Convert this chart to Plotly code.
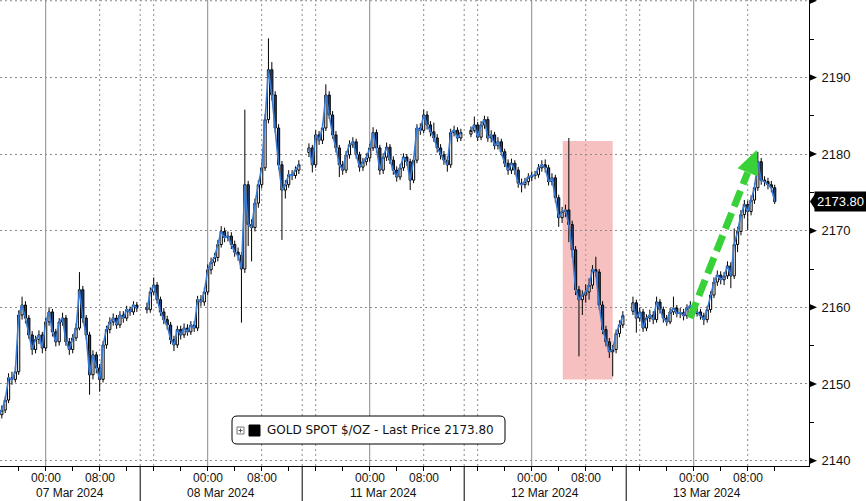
import plotly.graph_objects as go

# ---------------- data: GOLD SPOT $/OZ, 30-minute bars ----------------
# first bar of each trading session, in hours from 07 Mar 2024 00:00 (chart time)
session_start = [-7.0, 15.0, 39.0, 63.0, 87.0]

open_07 = [2145.2, 2146.0, 2146.6, 2147.9, 2150.8, 2150.6, 2151.6, 2159.0, 2160.3, 2158.6, 2156.4, 2154.5, 2155.8, 2156.4, 2154.7, 2158.1, 2159.4, 2156.8, 2155.5, 2158.1, 2158.6, 2155.5, 2154.5, 2156.0, 2157.3, 2162.3, 2158.6, 2156.4, 2151.2, 2153.8, 2152.1, 2150.6, 2155.1, 2157.1, 2158.1, 2158.6, 2157.7, 2159.0, 2158.6, 2159.7, 2159.4, 2160.3]
high_07 = [2146.5, 2147.2, 2148.4, 2151.4, 2151.6, 2152.2, 2159.6, 2161.4, 2160.8, 2159.0, 2156.9, 2156.3, 2157.0, 2156.8, 2158.6, 2160.0, 2159.8, 2157.2, 2158.6, 2159.3, 2159.0, 2156.0, 2156.5, 2157.9, 2164.6, 2162.8, 2159.0, 2156.8, 2154.4, 2154.2, 2152.6, 2155.6, 2157.6, 2158.7, 2159.2, 2159.0, 2159.5, 2159.5, 2160.2, 2160.1, 2160.8, 2160.7]
low_07 = [2144.6, 2145.5, 2146.2, 2147.5, 2149.9, 2150.2, 2151.2, 2158.4, 2157.9, 2155.9, 2153.8, 2154.0, 2155.2, 2154.0, 2154.3, 2157.6, 2156.2, 2154.9, 2155.0, 2157.6, 2155.0, 2153.8, 2154.0, 2155.6, 2157.0, 2158.0, 2155.8, 2148.6, 2150.6, 2151.4, 2149.0, 2150.2, 2154.6, 2156.6, 2157.6, 2157.2, 2157.3, 2158.0, 2158.2, 2158.9, 2159.0, 2159.4]
close_07 = [2146.0, 2146.6, 2147.9, 2150.8, 2150.6, 2151.6, 2159.0, 2160.3, 2158.6, 2156.4, 2154.5, 2155.8, 2156.4, 2154.7, 2158.1, 2159.4, 2156.8, 2155.5, 2158.1, 2158.6, 2155.5, 2154.5, 2156.0, 2157.3, 2162.3, 2158.6, 2156.4, 2151.2, 2153.8, 2152.1, 2150.6, 2155.1, 2157.1, 2158.1, 2158.6, 2157.7, 2159.0, 2158.6, 2159.7, 2159.4, 2160.3, 2159.9]

open_08 = [2160.0, 2159.7, 2162.0, 2162.9, 2161.0, 2159.4, 2158.4, 2157.7, 2155.8, 2155.1, 2157.1, 2156.4, 2157.3, 2156.8, 2157.7, 2157.3, 2161.0, 2160.7, 2162.0, 2164.9, 2165.9, 2166.5, 2168.2, 2169.9, 2169.1, 2169.3, 2168.2, 2167.2, 2166.8, 2165.0, 2176.0, 2170.8, 2170.4, 2173.6, 2176.0, 2178.2, 2184.5, 2191.0, 2187.7, 2183.4, 2178.6, 2175.3, 2176.0, 2177.3, 2177.2, 2177.9]
high_08 = [2160.6, 2162.6, 2163.9, 2163.3, 2161.4, 2159.9, 2158.9, 2158.1, 2156.3, 2157.6, 2157.6, 2157.9, 2157.8, 2158.2, 2158.2, 2161.5, 2161.6, 2162.6, 2165.6, 2166.5, 2167.1, 2168.8, 2170.6, 2170.4, 2169.9, 2169.8, 2168.7, 2167.8, 2167.2, 2185.8, 2176.5, 2171.5, 2174.2, 2176.6, 2178.9, 2185.2, 2195.1, 2192.0, 2188.2, 2183.9, 2179.1, 2176.6, 2177.9, 2177.9, 2178.4, 2179.2]
low_08 = [2159.2, 2159.3, 2161.6, 2160.5, 2158.9, 2157.8, 2157.1, 2155.2, 2154.3, 2154.7, 2155.8, 2156.0, 2156.3, 2156.4, 2156.8, 2156.9, 2160.1, 2160.2, 2161.6, 2164.3, 2165.4, 2166.0, 2167.8, 2168.5, 2168.6, 2167.6, 2166.6, 2166.1, 2158.0, 2164.5, 2168.0, 2166.0, 2169.9, 2173.0, 2175.5, 2177.8, 2184.0, 2187.0, 2182.8, 2178.0, 2168.8, 2174.2, 2175.6, 2176.6, 2176.8, 2177.4]
close_08 = [2159.7, 2162.0, 2162.9, 2161.0, 2159.4, 2158.4, 2157.7, 2155.8, 2155.1, 2157.1, 2156.4, 2157.3, 2156.8, 2157.7, 2157.3, 2161.0, 2160.7, 2162.0, 2164.9, 2165.9, 2166.5, 2168.2, 2169.9, 2169.1, 2169.3, 2168.2, 2167.2, 2166.8, 2165.0, 2176.0, 2170.8, 2170.4, 2173.6, 2176.0, 2178.2, 2184.5, 2191.0, 2187.7, 2183.4, 2178.6, 2175.3, 2176.0, 2177.3, 2177.2, 2177.9, 2178.6]

open_11 = [2180.2, 2180.8, 2178.6, 2182.5, 2181.8, 2183.4, 2187.7, 2185.1, 2182.5, 2180.8, 2178.6, 2177.9, 2179.9, 2181.2, 2181.6, 2179.9, 2178.3, 2179.0, 2179.5, 2180.8, 2182.8, 2180.8, 2177.9, 2179.6, 2180.9, 2179.2, 2177.9, 2177.0, 2178.2, 2179.6, 2179.0, 2176.6, 2179.2, 2183.4, 2183.1, 2185.1, 2183.8, 2182.9, 2182.1, 2180.8, 2179.9, 2179.2, 2178.6, 2182.8, 2183.1, 2182.1]
high_11 = [2181.4, 2181.2, 2183.1, 2183.0, 2184.0, 2189.1, 2188.2, 2185.6, 2183.0, 2181.2, 2179.1, 2180.4, 2181.8, 2182.2, 2182.0, 2180.3, 2179.5, 2180.1, 2181.3, 2183.5, 2183.2, 2181.2, 2180.1, 2181.5, 2181.3, 2179.7, 2178.4, 2178.7, 2180.1, 2180.0, 2179.4, 2179.7, 2183.9, 2184.0, 2185.8, 2185.6, 2184.3, 2184.1, 2182.6, 2181.3, 2180.4, 2179.7, 2183.3, 2183.7, 2183.5, 2183.3]
low_11 = [2179.6, 2177.6, 2178.2, 2181.2, 2181.3, 2183.0, 2184.6, 2182.0, 2180.2, 2177.0, 2177.3, 2177.5, 2179.4, 2180.8, 2179.4, 2177.7, 2177.8, 2178.5, 2179.0, 2180.4, 2180.2, 2177.3, 2177.4, 2179.1, 2178.7, 2177.3, 2176.4, 2176.6, 2177.8, 2178.5, 2175.3, 2176.2, 2178.8, 2182.5, 2182.7, 2183.2, 2182.3, 2181.6, 2180.2, 2179.3, 2178.6, 2177.7, 2178.2, 2182.3, 2181.6, 2181.7]
close_11 = [2180.8, 2178.6, 2182.5, 2181.8, 2183.4, 2187.7, 2185.1, 2182.5, 2180.8, 2178.6, 2177.9, 2179.9, 2181.2, 2181.6, 2179.9, 2178.3, 2179.0, 2179.5, 2180.8, 2182.8, 2180.8, 2177.9, 2179.6, 2180.9, 2179.2, 2177.9, 2177.0, 2178.2, 2179.6, 2179.0, 2176.6, 2179.2, 2183.4, 2183.1, 2185.1, 2183.8, 2182.9, 2182.1, 2180.8, 2179.9, 2179.2, 2178.6, 2182.8, 2183.1, 2182.1, 2182.8]

open_12 = [2182.6, 2183.1, 2183.8, 2182.2, 2183.8, 2184.5, 2182.1, 2182.5, 2181.1, 2181.6, 2180.3, 2178.8, 2177.9, 2178.8, 2177.9, 2176.2, 2176.0, 2176.4, 2177.0, 2177.2, 2177.3, 2178.2, 2178.6, 2178.2, 2176.4, 2176.9, 2174.3, 2171.7, 2172.5, 2172.7, 2170.8, 2167.5, 2162.3, 2161.0, 2161.6, 2162.0, 2162.9, 2164.9, 2164.6, 2160.3, 2157.1, 2155.5, 2154.2, 2154.5, 2156.6, 2157.7]
high_12 = [2183.6, 2184.9, 2184.2, 2184.3, 2185.0, 2184.9, 2183.1, 2182.9, 2182.2, 2182.0, 2180.7, 2179.3, 2179.4, 2179.2, 2178.3, 2176.8, 2176.9, 2177.5, 2177.7, 2177.8, 2178.7, 2179.2, 2179.3, 2178.6, 2177.5, 2177.3, 2174.7, 2173.1, 2173.4, 2182.1, 2171.3, 2168.0, 2162.8, 2162.2, 2163.0, 2163.8, 2165.5, 2166.6, 2165.0, 2160.8, 2157.6, 2156.0, 2155.1, 2157.1, 2158.3, 2159.5]
low_12 = [2182.2, 2182.8, 2181.7, 2181.8, 2183.3, 2181.6, 2181.5, 2180.6, 2180.6, 2179.8, 2178.3, 2177.3, 2177.4, 2177.3, 2175.6, 2175.0, 2175.5, 2175.9, 2176.5, 2176.7, 2176.9, 2177.7, 2177.6, 2175.9, 2175.9, 2173.7, 2170.5, 2171.0, 2171.8, 2168.5, 2166.5, 2161.6, 2153.6, 2159.0, 2160.6, 2161.0, 2162.4, 2164.0, 2159.7, 2156.5, 2154.9, 2153.4, 2151.0, 2154.0, 2156.1, 2157.3]
close_12 = [2183.1, 2183.8, 2182.2, 2183.8, 2184.5, 2182.1, 2182.5, 2181.1, 2181.6, 2180.3, 2178.8, 2177.9, 2178.8, 2177.9, 2176.2, 2176.0, 2176.4, 2177.0, 2177.2, 2177.3, 2178.2, 2178.6, 2178.2, 2176.4, 2176.9, 2174.3, 2171.7, 2172.5, 2172.7, 2170.8, 2167.5, 2162.3, 2161.0, 2161.6, 2162.0, 2162.9, 2164.9, 2164.6, 2160.3, 2157.1, 2155.5, 2154.2, 2154.5, 2156.6, 2157.7, 2158.9]

open_13 = [2159.5, 2160.6, 2158.6, 2159.4, 2157.3, 2158.6, 2159.0, 2158.4, 2160.7, 2159.7, 2158.6, 2158.1, 2159.4, 2159.9, 2159.2, 2159.3, 2158.9, 2159.9, 2160.2, 2159.2, 2159.4, 2158.9, 2158.4, 2159.7, 2161.6, 2163.3, 2164.2, 2163.6, 2164.1, 2165.4, 2164.1, 2168.2, 2169.9, 2172.1, 2173.4, 2172.5, 2174.0, 2175.6, 2179.0, 2176.6, 2176.4, 2176.0, 2175.6]
high_13 = [2161.4, 2161.0, 2160.0, 2159.8, 2159.1, 2159.7, 2159.5, 2161.4, 2161.1, 2160.1, 2159.0, 2159.9, 2161.4, 2160.3, 2159.9, 2159.8, 2160.4, 2160.8, 2160.6, 2159.9, 2159.8, 2159.3, 2160.2, 2162.1, 2163.9, 2164.8, 2164.7, 2164.6, 2166.0, 2165.9, 2170.3, 2170.5, 2172.7, 2174.0, 2173.9, 2174.6, 2176.2, 2180.3, 2179.5, 2177.1, 2176.9, 2176.5, 2176.0]
low_13 = [2159.0, 2156.7, 2158.1, 2156.8, 2156.9, 2158.1, 2157.8, 2158.0, 2159.2, 2158.0, 2157.6, 2157.8, 2159.0, 2158.7, 2158.6, 2158.3, 2158.5, 2159.4, 2158.7, 2158.8, 2158.4, 2157.7, 2158.0, 2159.3, 2161.2, 2162.8, 2163.0, 2162.9, 2163.7, 2162.5, 2163.7, 2167.2, 2169.4, 2171.6, 2170.1, 2172.0, 2173.5, 2175.2, 2176.0, 2175.8, 2175.4, 2175.0, 2173.5]
close_13 = [2160.6, 2158.6, 2159.4, 2157.3, 2158.6, 2159.0, 2158.4, 2160.7, 2159.7, 2158.6, 2158.1, 2159.4, 2159.9, 2159.2, 2159.3, 2158.9, 2159.9, 2160.2, 2159.2, 2159.4, 2158.9, 2158.4, 2159.7, 2161.6, 2163.3, 2164.2, 2163.6, 2164.1, 2165.4, 2164.1, 2168.2, 2169.9, 2172.1, 2173.4, 2172.5, 2174.0, 2175.6, 2179.0, 2176.6, 2176.4, 2176.0, 2175.6, 2173.8]

day_labels = ["07 Mar 2024", "08 Mar 2024", "11 Mar 2024", "12 Mar 2024", "13 Mar 2024"]
time_labels = {0: "00:00", 8: "08:00"}
y_tick_values = [2140, 2150, 2160, 2170, 2180, 2190]
last_price = 2173.80
series_name = "GOLD SPOT $/OZ - Last Price"

# annotation geometry (data units: hours / price)
highlight_box = dict(x0=76.6, x1=84.0, y0=2150.6, y1=2181.7)
arrow_start = (95.45, 2158.6)
arrow_shaft_end = (104.0, 2177.6)
arrow_head = [(105.33, 2180.53), (102.5, 2178.15), (105.53, 2177.08)]

# ---------------- assemble ----------------
opens = [open_07, open_08, open_11, open_12, open_13]
highs = [high_07, high_08, high_11, high_12, high_13]
lows = [low_07, low_08, low_11, low_12, low_13]
closes = [close_07, close_08, close_11, close_12, close_13]

x_hours, O, H, L, C = [], [], [], [], []
line_x, line_y = [], []
for start, o, h, l, c in zip(session_start, opens, highs, lows, closes):
    xs = [start + 0.5 * i for i in range(len(c))]
    x_hours += xs
    O += o; H += h; L += l; C += c
    line_x += xs + [None]
    line_y += list(c) + [None]

X_RANGE = [-6.77, 113.08]
Y_RANGE = [2139.3, 2200.1]
W, HGT = 866, 501
M_R, M_B = 57, 35
PW, PH = W - M_R, HGT - M_B

FONT = "Liberation Sans, Arial, sans-serif"

fig = go.Figure()
fig.add_trace(go.Scatter(x=line_x, y=line_y, mode="lines", connectgaps=False,
                         line=dict(color="#3a7bd5", width=1.6), showlegend=False, hoverinfo="skip"))
fig.add_trace(go.Candlestick(
    x=x_hours, open=O, high=H, low=L, close=C,
    increasing=dict(line=dict(color="#000000", width=1), fillcolor="#ffffff"),
    decreasing=dict(line=dict(color="#000000", width=1), fillcolor="#24467f"),
    whiskerwidth=0, showlegend=False, hoverinfo="skip",
))

tick_hours = list(range(-4, 112, 4))

shapes = []
shapes.append(dict(type="rect", xref="x", yref="y", layer="below",
                   fillcolor="rgba(240,140,140,0.55)", line=dict(width=0), **highlight_box))

midnights = [24 * d for d in range(len(day_labels))]
for m in midnights:
    shapes.append(dict(type="line", xref="x", yref="paper", x0=m, x1=m, y0=0, y1=1, layer="below",
                       line=dict(color="#8a8a8a", width=1)))
    for off in (8, -8, -10):
        shapes.append(dict(type="line", xref="x", yref="paper", x0=m + off, x1=m + off, y0=0, y1=1,
                           layer="below", line=dict(color="#8a8a8a", width=1, dash="2px,3px")))
    shapes.append(dict(type="line", xref="x", yref="paper", x0=m - 10, x1=m - 10, y0=0, y1=-M_B / PH,
                       line=dict(color="#000000", width=1)))
shapes.append(dict(type="line", xref="paper", yref="y", x0=0, x1=1, y0=2200, y1=2200, layer="below",
                   line=dict(color="#8a8a8a", width=1, dash="2px,3px")))

tw = 8 / PW
th = 3.5 * (Y_RANGE[1] - Y_RANGE[0]) / PH
for v in y_tick_values + [2200]:
    shapes.append(dict(type="path", xref="paper", yref="y",
                       path=f"M 1,{v + th} L {1 + tw},{v} L 1,{v - th} Z",
                       fillcolor="#000000", line=dict(width=0)))

shapes.append(dict(type="path", xref="paper", yref="y",
                   path=f"M {1 + 1 / PW},{last_price} L {1 + 6 / PW},{last_price + 2.2 * th} "
                        f"L {1 + 6 / PW},{last_price - 2.2 * th} Z",
                   fillcolor="#000000", line=dict(width=0)))

shapes.append(dict(type="line", xref="x", yref="y",
                   x0=arrow_start[0], y0=arrow_start[1], x1=arrow_shaft_end[0], y1=arrow_shaft_end[1],
                   line=dict(color="#38d238", width=7, dash="17px,7px")))
p = arrow_head
shapes.append(dict(type="path", xref="x", yref="y",
                   path=f"M {p[0][0]},{p[0][1]} L {p[1][0]},{p[1][1]} L {p[2][0]},{p[2][1]} Z",
                   fillcolor="#38d238", line=dict(width=0)))

def px(xp):
    return xp / PW

def py(yp):
    return 1 - yp / PH

bx0, bx1, by0, by1, r = 232, 505, 416, 444, 5
path = (f"M {px(bx0 + r)},{py(by0)} L {px(bx1 - r)},{py(by0)} Q {px(bx1)},{py(by0)} {px(bx1)},{py(by0 + r)} "
        f"L {px(bx1)},{py(by1 - r)} Q {px(bx1)},{py(by1)} {px(bx1 - r)},{py(by1)} "
        f"L {px(bx0 + r)},{py(by1)} Q {px(bx0)},{py(by1)} {px(bx0)},{py(by1 - r)} "
        f"L {px(bx0)},{py(by0 + r)} Q {px(bx0)},{py(by0)} {px(bx0 + r)},{py(by0)} Z")
shapes.append(dict(type="path", xref="paper", yref="paper", path=path,
                   fillcolor="#ffffff", line=dict(color="#000000", width=1)))
shapes.append(dict(type="rect", xref="paper", yref="paper", x0=px(237), x1=px(244), y0=py(434), y1=py(427),
                   fillcolor="#ffffff", line=dict(color="#777777", width=1)))
shapes.append(dict(type="line", xref="paper", yref="paper", x0=px(238.5), x1=px(242.5), y0=py(430.5), y1=py(430.5),
                   line=dict(color="#555555", width=1)))
shapes.append(dict(type="line", xref="paper", yref="paper", x0=px(240.5), x1=px(240.5), y0=py(428.5), y1=py(432.5),
                   line=dict(color="#555555", width=1)))
shapes.append(dict(type="rect", xref="paper", yref="paper", x0=px(249), x1=px(260), y0=py(436), y1=py(425),
                   fillcolor="#000000", line=dict(color="#000000", width=1)))

annotations = []
# time-of-day labels under their ticks
for h in tick_hours:
    lab = time_labels.get(h % 24)
    if lab:
        annotations.append(dict(x=h, y=-12 / PH, xref="x", yref="paper", text=lab, showarrow=False,
                                xanchor="center", yanchor="middle",
                                font=dict(family=FONT, size=12, color="#111111")))
# date labels centred on the visible part of each session
for m, lab in zip(midnights, day_labels):
    a = max(m - 10, X_RANGE[0])
    b = min(m + 14, X_RANGE[1])
    annotations.append(dict(x=(a + b) / 2, y=-26.5 / PH, xref="x", yref="paper", text=lab, showarrow=False,
                            xanchor="center", yanchor="middle", font=dict(family=FONT, size=12, color="#111111")))
annotations.append(dict(x=px(265), y=py(430), xref="paper", yref="paper",
                        text=f"{series_name} {last_price:.2f}", showarrow=False,
                        xanchor="left", yanchor="middle",
                        font=dict(family="DejaVu Sans, sans-serif", size=12, color="#111111")))
annotations.append(dict(x=1 + 5 / PW, y=last_price, xref="paper", yref="y", text=f"{last_price:.2f}",
                        showarrow=False, xanchor="left", yanchor="middle", bgcolor="#000000",
                        borderpad=2, font=dict(family=FONT, size=13, color="#ffffff")))

fig.update_layout(
    width=W, height=HGT,
    margin=dict(l=0, r=M_R, t=0, b=M_B, pad=0, autoexpand=False),
    paper_bgcolor="#ffffff", plot_bgcolor="#ffffff",
    showlegend=False, boxgap=0.08,
    shapes=shapes, annotations=annotations,
    xaxis=dict(range=X_RANGE, tickmode="array", tickvals=tick_hours, showticklabels=False,
               ticks="outside", ticklen=4, tickcolor="#000000", tickwidth=1,
               showline=True, linecolor="#000000", linewidth=1, showgrid=False, zeroline=False,
               rangeslider=dict(visible=False), fixedrange=True, automargin=False),
    yaxis=dict(range=Y_RANGE, side="right", tickmode="array", tickvals=y_tick_values,
               ticks="outside", ticklen=9, tickcolor="rgba(0,0,0,0)", automargin=False,
               showline=True, linecolor="#000000", linewidth=1,
               showgrid=True, gridcolor="#8a8a8a", gridwidth=1, griddash="2px,3px", zeroline=False,
               minor=dict(tickvals=[2145, 2155, 2165, 2175, 2185, 2195], ticks="outside", ticklen=4,
                          tickcolor="#000000", tickwidth=1, showgrid=False),
               tickfont=dict(family=FONT, size=13, color="#111111")),
)

fig.write_html("out.html", config={"displayModeBar": False},
               post_script="document.body.style.margin='0';document.body.style.overflow='hidden';")
